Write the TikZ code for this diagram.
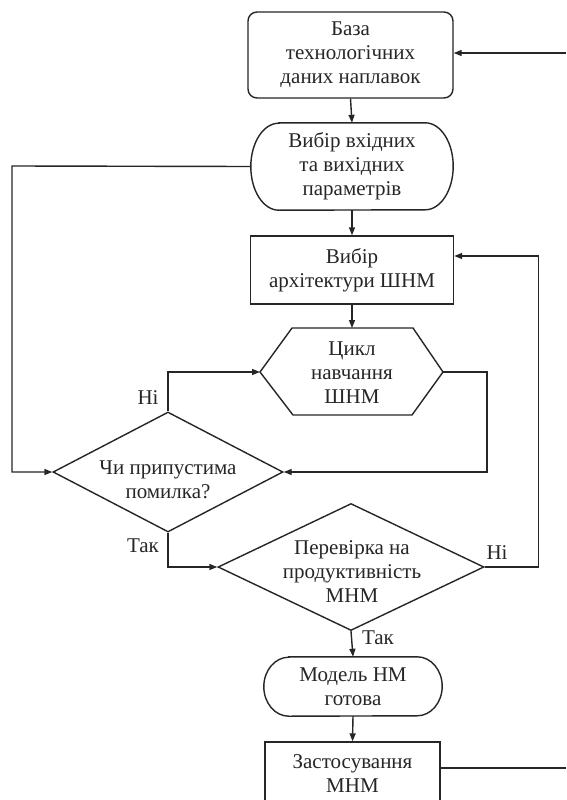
\documentclass[tikz,border=0pt]{standalone}
\usepackage{fontspec}
\setmainfont{Liberation Serif}
\usetikzlibrary{shapes.geometric,arrows.meta,calc}
\definecolor{ink}{HTML}{262626}
\newcommand\drawstadium[3]{%
  \draw[line] ($(#1.north west)+(#2,0)$) -- ($(#1.north east)+(-#2,0)$)
    arc[start angle=90,end angle=-90,x radius=#2pt,y radius=#3pt]
    -- ($(#1.south west)+(#2,0)$)
    arc[start angle=270,end angle=90,x radius=#2pt,y radius=#3pt] -- cycle;}
\begin{document}
\begin{tikzpicture}[x=1pt,y=1pt,
  line/.style={draw=ink,line width=1.4pt},
  arr/.style={line,-{Triangle[length=8pt,width=6pt]}},
  txt/.style={font=\fontsize{21}{24}\selectfont,text=ink,align=center,inner sep=0pt},
  boxr/.style={txt,line,rectangle,rounded corners=9pt},
  boxp/.style={txt,line,rectangle},
  stad/.style={txt,rectangle,draw=none},
  dia/.style={line,diamond,inner sep=0pt},
  lab/.style={txt}]
\useasboundingbox (0,0) rectangle (566,-800);
\clip (0,0) rectangle (566,-800);
\fill[white] (0,0) rectangle (566,-800);

% nodes
\node[boxr,minimum width=205pt,minimum height=86pt] (b1) at (350.5,-55)
  {База\\технологічних\\даних наплавок};
\node[stad,minimum width=202pt,minimum height=87pt] (s1) at (352,-166.5)
  {Вибір вхідних\\та вихідних\\параметрів};
\drawstadium{s1}{28}{43.5}
\node[boxp,minimum width=203pt,minimum height=68pt] (r2) at (352,-270)
  {Вибір\\архітектури ШНМ};
% hexagon
\coordinate (hexW) at (260,-372);
\coordinate (hexE) at (443,-372);
\coordinate (hexN) at (352,-328);
\draw[line] (hexW) -- (292,-328) -- (413,-328) -- (hexE) -- (412,-415) -- (293,-415) -- cycle;
\node[txt] (hex) at (352,-373) {Цикл\\навчання\\ШНМ};
% diamonds
\node[dia,minimum width=230pt,minimum height=120pt] (d1) at (168,-472) {};
\node[txt] (d1t) at (168,-480) {Чи припустима\\помилка?};
\node[dia,minimum width=266pt,minimum height=127pt] (d2) at (351,-567) {};
\node[txt] (d2t) at (352,-572) {Перевірка на\\продуктивність\\МНМ};
\node[stad,minimum width=178pt,minimum height=59pt] (s2) at (353,-686.5)
  {Модель НМ\\готова};
\drawstadium{s2}{25}{29.5}
\node[boxp,minimum width=175pt,minimum height=64pt] (r3) at (352.5,-774)
  {Застосування\\МНМ};

% labels
\node[lab] (l1) at (148,-398) {Ні};
\node[lab] (l2) at (143,-546) {Так};
\node[lab] (l3) at (497,-553) {Ні};
\node[lab] (l4) at (378,-638) {Так};

% connectors
\coordinate (inR) at (566,-53);
\coordinate (lx) at (12,-166);
\coordinate (outR) at (566,-768);
\draw[arr] (inR) -- (inR -| b1.east);
\draw[arr] (b1.south) -- (s1.north);
\draw[arr] (s1.west) -- (lx) |- (d1.west);
\draw[arr] (s1.south) -- (r2.north);
\draw[arr] (r2.south) -- (hexN);
\draw[arr] (d1.north) |- (hexW);
\draw[arr] (hexE) -- ++(44,0) |- (d1.east);
\draw[arr] (d1.south) |- (d2.west);
\draw[arr] (d2.east) -- ++(54,0) |- ([yshift=14pt]r2.east);
\draw[arr] (d2.south) -- (s2.north);
\draw[arr] (s2.south) -- (r3.north);
\draw[line] (outR -| r3.east) -- (outR);
\end{tikzpicture}
\end{document}
